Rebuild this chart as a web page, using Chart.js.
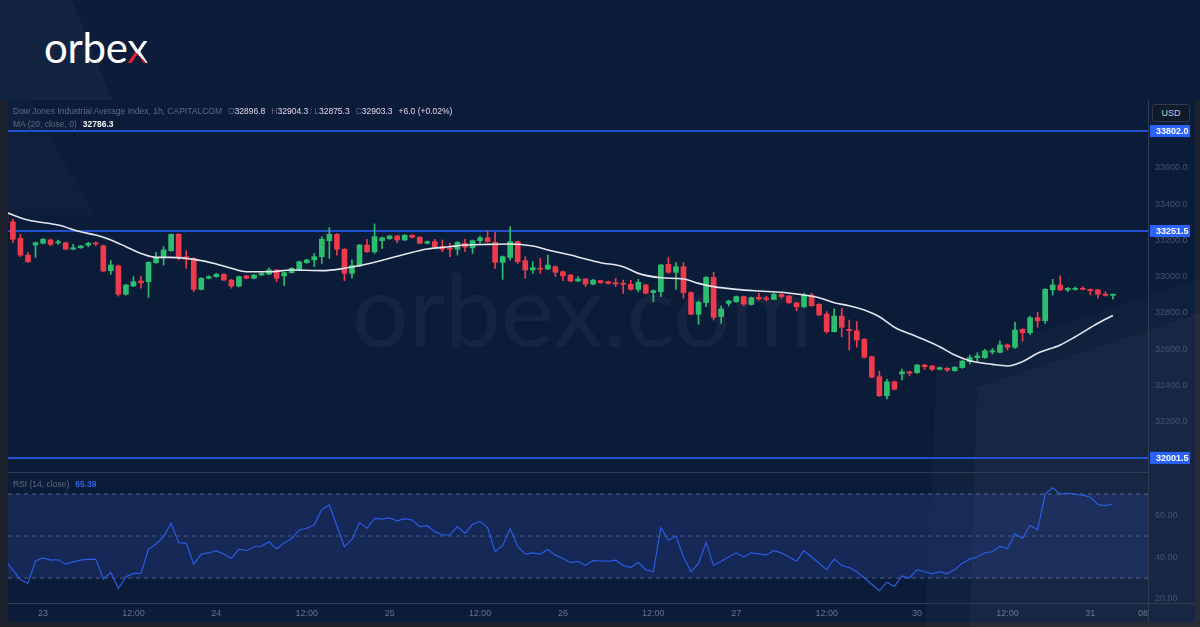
<!DOCTYPE html>
<html lang="en">
<head>
<meta charset="UTF-8">
<title>Dow Jones Industrial Average Index 1h - orbex</title>
<script src="https://cdn.jsdelivr.net/npm/chart.js"></script>
<style>
*{margin:0;padding:0;box-sizing:border-box;}
html,body{width:1200px;height:627px;overflow:hidden;}
body{background:#0b1d3b;font-family:'Liberation Sans',Arial,sans-serif;position:relative;}
.frame{position:absolute;left:0;top:100px;width:1200px;height:527px;background:#1c212b;}
.pane{position:absolute;left:8px;top:100px;width:1187px;height:522px;background:#0b1c39;}
.deco{position:absolute;left:0;top:0;width:1200px;height:627px;pointer-events:none;}
.d1{clip-path:polygon(0 0,72px 0,112px 100px,0 100px);background:rgba(255,255,255,.035);}
.d2{clip-path:polygon(8px 100px,30px 100px,95px 215px,8px 215px);background:rgba(255,255,255,.02);}
.d3{clip-path:polygon(925px 627px,937px 367px,1200px 278px,1200px 627px);background:rgba(255,255,255,.025);}
.d4{clip-path:polygon(970px 627px,977px 387px,1200px 313px,1200px 627px);background:rgba(255,255,255,.03);}
.logo{position:absolute;left:44px;top:26px;font-family:'Lato',sans-serif;font-size:42px;line-height:42px;color:#fff;letter-spacing:-0.3px;}
.logo .x{background:linear-gradient(45deg,#e3202e 0 40%,#fff 40%);-webkit-background-clip:text;background-clip:text;color:transparent;}
.wm{position:absolute;left:352px;top:258px;font-family:'Lato',sans-serif;font-size:100px;line-height:100px;color:rgba(255,255,255,.045);white-space:nowrap;}
#box{position:absolute;left:8px;top:100px;width:1187px;height:522px;}
.legend{position:absolute;left:13px;font-size:8.5px;line-height:11px;color:#5f6b80;white-space:nowrap;}
.legend .k{margin-left:6px;}
.legend .v{color:#e6d3e8;}
.legend .m{color:#f2f4f8;font-weight:bold;margin-left:6px;}
.legend .r{color:#2f63f0;font-weight:bold;margin-left:6px;}
.usd{position:absolute;left:1152px;top:104px;width:38px;height:18px;border:1px solid #2f3a4d;border-radius:3px;background:#0f1a2b;color:#c4cad4;font-size:9px;line-height:16px;text-align:center;}
</style>
</head>
<body>
<div class="frame"></div>
<div class="pane"></div>
<div class="deco d1"></div>
<div class="deco d2"></div>
<div class="deco d3"></div>
<div class="deco d4"></div>
<div class="logo">orbe<span class="x">x</span></div>
<div class="wm">orbex.com</div>
<div id="box"><canvas id="chart"></canvas></div>
<div class="legend" style="top:106px;" id="leg1"></div>
<div class="legend" style="top:119px;" id="leg2"></div>
<div class="legend" style="top:479px;" id="leg3"></div>
<div class="usd">USD</div>

<script>
// first candle on screen is bar -5 (bar 0 = the "23" label)
const firstBar=-5;
const opens=[33330,33302,33211,33119,33174,33184,33202,33186,33187,33151,33159,33174,33184,33170,33033,33059,32903,32948,32976,32972,33077,33104,33143,33233,33110,33101,32930,32991,33000,33013,32981,32948,33004,32991,33009,33014,33037,33004,33022,33037,33077,33092,33110,33198,33233,33151,33018,33059,33174,33137,33198,33209,33224,33202,33228,33217,33184,33193,33165,33156,33151,33184,33159,33198,33214,33189,33079,33106,33193,33088,33037,33046,33042,33055,33027,33009,32976,32987,32959,32978,32972,32967,32963,32958,32930,32954,32912,32917,33068,33024,33055,32912,32793,32857,32996,32780,32853,32862,32890,32847,32886,32882,32875,32903,32893,32856,32834,32899,32847,32794,32697,32783,32710,32702,32655,32559,32449,32344,32421,32464,32476,32471,32513,32508,32490,32495,32482,32499,32532,32554,32554,32585,32583,32624,32611,32710,32691,32774,32757,32927,32954,32927,32930,32936,32930,32927,32904,32896.8];
const highs=[33338,33317,33233,33134,33190,33210,33208,33201,33190,33178,33172,33189,33192,33175,33088,33064,32958,33000,33003,33082,33134,33165,33235,33237,33143,33105,32995,33005,33018,33016,32985,33003,33007,33012,33024,33049,33040,33027,33050,33086,33096,33128,33220,33270,33237,33155,33092,33178,33206,33290,33218,33228,33227,33231,33231,33220,33197,33206,33202,33184,33193,33206,33202,33224,33253,33244,33114,33275,33197,33110,33082,33101,33119,33059,33030,33012,33000,32990,32985,32981,32976,32991,32981,32981,32985,32958,32927,33068,33106,33077,33079,32916,32866,33000,33024,32838,32870,32894,32893,32888,32908,32893,32908,32906,32897,32859,32908,32908,32851,32807,32822,32826,32761,32752,32659,32563,32480,32434,32425,32491,32480,32517,32517,32511,32502,32499,32504,32538,32568,32581,32600,32605,32647,32629,32749,32713,32783,32804,32934,32985,33004,32941,32943,32945,32933,32930,32917,32904.3];
const lows=[33296,33187,33110,33078,33106,33180,33170,33178,33148,33148,33156,33165,33170,33028,33014,32893,32898,32945,32936,32886,33073,33064,33140,33092,33046,32917,32927,32988,32996,32978,32936,32944,32988,32988,33006,33011,32972,32950,33019,33034,33073,33055,33073,33101,33119,32978,32991,33055,33133,33128,33156,33205,33187,33199,33214,33181,33180,33162,33137,33110,33119,33137,33128,33184,33189,33046,32985,33092,33073,32991,33018,33018,33038,33000,32978,32972,32972,32945,32955,32963,32959,32945,32908,32925,32917,32905,32862,32890,33018,32930,32881,32789,32737,32834,32761,32743,32838,32858,32840,32843,32871,32866,32871,32881,32852,32812,32830,32836,32785,32688,32694,32669,32596,32611,32550,32442,32340,32326,32376,32431,32453,32467,32490,32482,32487,32477,32479,32495,32519,32532,32550,32574,32580,32596,32605,32645,32680,32721,32743,32899,32923,32917,32925,32927,32899,32881,32893,32875.3];
const closes=[33302,33206,33119,33082,33187,33206,33178,33192,33151,33159,33169,33184,33180,33031,33064,32903,32954,32972,32966,33079,33101,33147,33233,33104,33096,32930,32991,33000,33013,32981,32948,33000,32991,33009,33018,33037,32991,33022,33046,33082,33092,33110,33206,33233,33151,33018,33062,33174,33137,33220,33214,33224,33202,33228,33217,33184,33193,33165,33151,33151,33189,33162,33198,33214,33193,33079,33110,33193,33082,33037,33049,33041,33064,33024,33005,32976,32987,32959,32981,32967,32963,32960,32958,32930,32969,32908,32923,33064,33024,33055,32912,32793,32859,32996,32776,32822,32866,32890,32849,32884,32877,32875,32903,32890,32856,32834,32899,32840,32789,32697,32783,32721,32702,32651,32556,32446,32344,32421,32380,32476,32468,32513,32504,32490,32499,32486,32501,32535,32554,32563,32591,32592,32624,32611,32706,32691,32774,32757,32930,32954,32927,32936,32936,32930,32923,32903,32897,32903.3];

// MA(20) at these bars
const maBars=[-5,-2,2,5,7,9,11,13,15,17,20,23,25,27,30,33,37,40,43,46,48,51,54,56,59,62,65,67,70,72,74,77,79,82,85,87,89,92,95,98,100,103,105,107,109,111,113,116,119,121,123,126,128,130,132,135,137,140,142];
const maValues=[33355,33312,33284,33247,33229,33202,33165,33128,33106,33106,33095,33070,33046,33027,33027,33037,33033,33046,33070,33101,33123,33152,33165,33174,33178,33180,33169,33147,33119,33097,33077,33055,33018,32994,32987,32963,32945,32930,32921,32914,32904,32884,32856,32840,32816,32779,32721,32669,32614,32568,32537,32517,32508,32532,32578,32624,32669,32743,32786.3];

// RSI(14), one value per bar starting at firstBar
const rsiValues=[38.5,33.8,29.3,27.4,38.1,39.6,38.5,38.7,36.6,37.7,38.5,39.0,38.9,29.5,32.6,25.0,30.6,32.2,32.2,43.8,46.2,49.7,56.1,46.8,46.5,36.6,41.4,42.0,43.0,41.4,39.3,43.8,43.0,44.9,45.2,47.3,43.9,46.8,48.7,52.9,53.7,55.4,62.7,64.8,54.8,44.9,48.4,56.4,53.7,58.4,58.1,58.6,57.2,58.3,57.6,54.5,54.9,52.1,50.5,50.5,54.5,51.3,55.6,57.0,54.0,42.5,45.5,53.5,44.9,41.4,42.0,41.4,43.6,40.9,39.3,37.3,37.9,36.0,38.4,38.1,
38,38.5,36,35,37.5,34,33,54,48,50,40,33,37,47,36,38,40,42,40,42,41.5,41,43,42,40,38,43,40,37,34,39,36,35,33,30,27,24,28,26,31,30,34,33,32,33,32,34,37,39,40,42,42.5,45,44,51,49,55,53,70,73,70,70.5,70,69.5,68.5,65,64.5,65.39];

const levels=[33802.0,33251.5,32001.5];
const rsiLevels=[70,50,30];
const priceTicks=[32000,32200,32400,32600,32800,33000,33200,33400,33600,33800];
const rsiTicks=[20,40,60];
const tickBars=[0,12,23,35,46,58,69,81,92,104,116,128,139,146];
const tickLabels=['23','12:00','24','12:00','25','12:00','26','12:00','27','12:00','30','12:00','31','08'];
const xMin=-4.65, xMax=146.65;
const priceMin=31924, priceMax=33973;
const rsiMin=18.1, rsiMax=80.5;

const UP='#2dbd6e', DOWN='#ef3a4c';
const last=opens.length-1;

// legends
document.getElementById('leg1').innerHTML='<span>Dow Jones Industrial Average Index, 1h, CAPITALCOM</span>'+
  '<span class="k">O</span><span class="v">'+opens[last].toFixed(1)+'</span>'+
  '<span class="k">H</span><span class="v">'+highs[last].toFixed(1)+'</span>'+
  '<span class="k">L</span><span class="v">'+lows[last].toFixed(1)+'</span>'+
  '<span class="k">C</span><span class="v">'+closes[last].toFixed(1)+'</span>'+
  '<span class="v" style="margin-left:6px">+6.0 (+0.02%)</span>';
document.getElementById('leg2').innerHTML='<span>MA (20, close, 0)</span><span class="m">'+maValues[maValues.length-1].toFixed(1)+'</span>';
document.getElementById('leg3').innerHTML='<span>RSI (14, close)</span><span class="r">'+rsiValues[rsiValues.length-1].toFixed(2)+'</span>';

const barX=opens.map((_,i)=>firstBar+i);
const colors=opens.map((o,i)=>closes[i]>=o?UP:DOWN);
const bodies=barX.map((x,i)=>({x:x,y:[opens[i],closes[i]]}));
const wicks=barX.map((x,i)=>({x:x,y:[lows[i],highs[i]]}));

const levelSets=levels.map(v=>({type:'line',yAxisID:'y',data:[{x:xMin,y:v},{x:xMax,y:v}],borderColor:'#2962ff',borderWidth:1.5,pointRadius:0,order:3}));
const rsiLevelSets=rsiLevels.map((v,i)=>({type:'line',yAxisID:'yR',data:[{x:xMin,y:v},{x:xMax,y:v}],borderColor:'rgba(150,160,180,0.55)',borderWidth:1,borderDash:[4,4],pointRadius:0,
  fill:i===0?{value:rsiLevels[rsiLevels.length-1]}:false,backgroundColor:'rgba(40,62,140,0.35)',order:6}));

const chrome={
  id:'chrome',
  afterDraw(chart){
    const {ctx,chartArea,scales}=chart;
    const y=scales.y;
    ctx.save();
    ctx.strokeStyle='#323c4f';ctx.lineWidth=1;
    ctx.beginPath();
    ctx.moveTo(chartArea.right+0.5,0);ctx.lineTo(chartArea.right+0.5,chart.height);
    ctx.moveTo(0,y.bottom+0.5);ctx.lineTo(chartArea.right,y.bottom+0.5);
    ctx.moveTo(0,chartArea.bottom+0.5);ctx.lineTo(chart.width,chartArea.bottom+0.5);
    ctx.stroke();
    ctx.font='bold 9px "Liberation Sans", Arial, sans-serif';
    ctx.textBaseline='middle';
    levels.forEach(v=>{
      const py=y.getPixelForValue(v);
      ctx.fillStyle='#2962ff';
      ctx.fillRect(chartArea.right+2,py-6,40,12);
      ctx.fillStyle='#ffffff';
      ctx.fillText(v.toFixed(1),chartArea.right+8,py+0.5);
    });
    ctx.restore();
  }
};

// keep the panes flush with the canvas edges
const flatY=s=>{s.width=47;s.paddingTop=0;s.paddingBottom=0;};
const flatX=s=>{s.height=19;s.paddingLeft=0;s.paddingRight=0;};

Chart.defaults.font.family="'Liberation Sans', Arial, sans-serif";

new Chart(document.getElementById('chart'),{
  type:'bar',
  data:{
    datasets:[
      {type:'line',label:'MA',yAxisID:'y',data:maBars.map((b,i)=>({x:b,y:maValues[i]})),borderColor:'#e4e7ee',borderWidth:1.6,pointRadius:0,cubicInterpolationMode:'monotone',order:0},
      {label:'body',yAxisID:'y',data:bodies,backgroundColor:colors,barThickness:5,minBarLength:1,grouped:false,borderWidth:0,order:1},
      {label:'wick',yAxisID:'y',data:wicks,backgroundColor:colors,barThickness:1,grouped:false,borderWidth:0,order:2},
      ...levelSets,
      {type:'line',label:'RSI',yAxisID:'yR',data:rsiValues.map((v,i)=>({x:firstBar+i,y:v})),borderColor:'#2d5be3',borderWidth:1.2,pointRadius:0,order:0},
      ...rsiLevelSets
    ]
  },
  options:{
    responsive:true,maintainAspectRatio:false,animation:false,
    layout:{padding:0},
    plugins:{legend:{display:false},tooltip:{enabled:false}},
    scales:{
      x:{type:'linear',min:xMin,max:xMax,offset:false,
        grid:{display:false,drawTicks:false},border:{display:false},
        afterBuildTicks:s=>{s.ticks=tickBars.map(v=>({value:v}));},
        afterFit:flatX,
        ticks:{autoSkip:false,maxRotation:0,color:'#67738a',font:{size:9},padding:5,
          callback:(v,i)=>tickLabels[i]}},
      y:{position:'right',stack:'pane',stackWeight:372,min:priceMin,max:priceMax,
        grid:{display:false,drawTicks:false},border:{display:false},
        afterBuildTicks:s=>{s.ticks=priceTicks.map(v=>({value:v}));},
        afterFit:flatY,
        ticks:{color:'#46546c',font:{size:9},padding:7,callback:v=>v.toFixed(1)}},
      yR:{position:'right',stack:'pane',stackWeight:131,min:rsiMin,max:rsiMax,
        grid:{display:false,drawTicks:false},border:{display:false},
        afterBuildTicks:s=>{s.ticks=rsiTicks.map(v=>({value:v}));},
        afterFit:flatY,
        ticks:{color:'#46546c',font:{size:9},padding:7,callback:v=>v.toFixed(2)}}
    }
  },
  plugins:[chrome]
});
</script>
</body>
</html>
